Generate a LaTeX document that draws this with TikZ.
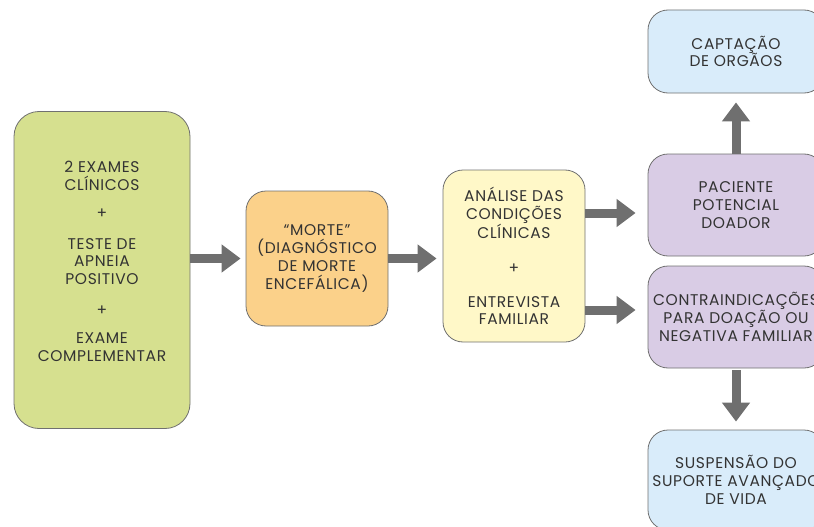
\documentclass[tikz,border=0pt]{standalone}
\usepackage{fontspec}
\setmainfont[LetterSpace=4]{Poppins}
\usetikzlibrary{arrows.meta}
\definecolor{verde}{HTML}{D6E08F}
\definecolor{laranja}{HTML}{FBD18A}
\definecolor{amarelo}{HTML}{FFF8C8}
\definecolor{azul}{HTML}{D9ECFA}
\definecolor{lilas}{HTML}{D9CCE5}
\definecolor{borda}{HTML}{707070}
\definecolor{texto}{HTML}{333333}
\definecolor{cinza}{HTML}{6F6F6F}
\begin{document}
\begin{tikzpicture}[x=1pt, y=-1pt,
    caixa/.style={draw=borda, line width=.8pt, rounded corners=20pt, align=center,
      text=texto, inner sep=0pt, font=\fontsize{15.5}{17.8}\selectfont},
    seta/.style={draw=cinza, line width=9pt, -{Triangle[length=19pt,width=27pt]}}]
  \useasboundingbox (0,0) rectangle (814,527);
  \clip (0,0) rectangle (814,527);
  % caixas
  \node[caixa, fill=verde, rounded corners=25pt, minimum width=176pt, minimum height=317pt] (exames) at (102,270)
    {2 EXAMES\\CLÍNICOS\\[10pt]+\\[13pt]TESTE DE\\APNEIA\\POSITIVO\\[13pt]+\\[10pt]EXAME\\COMPLEMENTAR\\[0pt]\mbox{}};
  \node[caixa, fill=laranja, minimum width=142pt, minimum height=135pt] (morte) at (317,258.5)
    {“MORTE”\\(DIAGNÓSTICO\\DE MORTE\\ENCEFÁLICA)};
  \node[caixa, fill=amarelo, minimum width=142pt, minimum height=172pt] (analise) at (514,256)
    {ANÁLISE DAS\\CONDIÇÕES\\CLÍNICAS\\[17pt]+\\[16pt]ENTREVISTA\\FAMILIAR};
  \node[caixa, fill=azul, minimum width=176pt, minimum height=83pt] (captacao) at (736,51.5)
    {CAPTAÇÃO\\DE ORGÃOS};
  \node[caixa, fill=lilas, minimum width=176pt, minimum height=102pt] (paciente) at (736,205)
    {PACIENTE\\POTENCIAL\\DOADOR};
  \node[caixa, fill=lilas, minimum width=176pt, minimum height=102pt] (contra) at (736,317)
    {CONTRAINDICAÇÕES\\PARA DOAÇÃO OU\\NEGATIVA FAMILIAR};
  \node[caixa, fill=azul, minimum width=176pt, minimum height=100pt] (suspensao) at (736,480)
    {SUSPENSÃO DO\\SUPORTE AVANÇADO\\DE VIDA};
  % setas
  \coordinate (s1) at ([yshift=-8pt]paciente.west);
  \coordinate (s2) at ([yshift=7pt]contra.west);
  \draw[seta, shorten >=5pt] (exames.east |- morte.west) -- (morte.west);
  \draw[seta, shorten >=6pt] (morte.east) -- (analise.west |- morte.east);
  \draw[seta, shorten >=12pt] (analise.east |- s1) -- (s1);
  \draw[seta, shorten >=12pt] (analise.east |- s2) -- (s2);
  \draw[seta, shorten >=9pt] (paciente.north) -- (captacao.south);
  \draw[seta, shorten <=2pt, shorten >=8pt] (contra.south) -- (suspensao.north);
\end{tikzpicture}
\end{document}
